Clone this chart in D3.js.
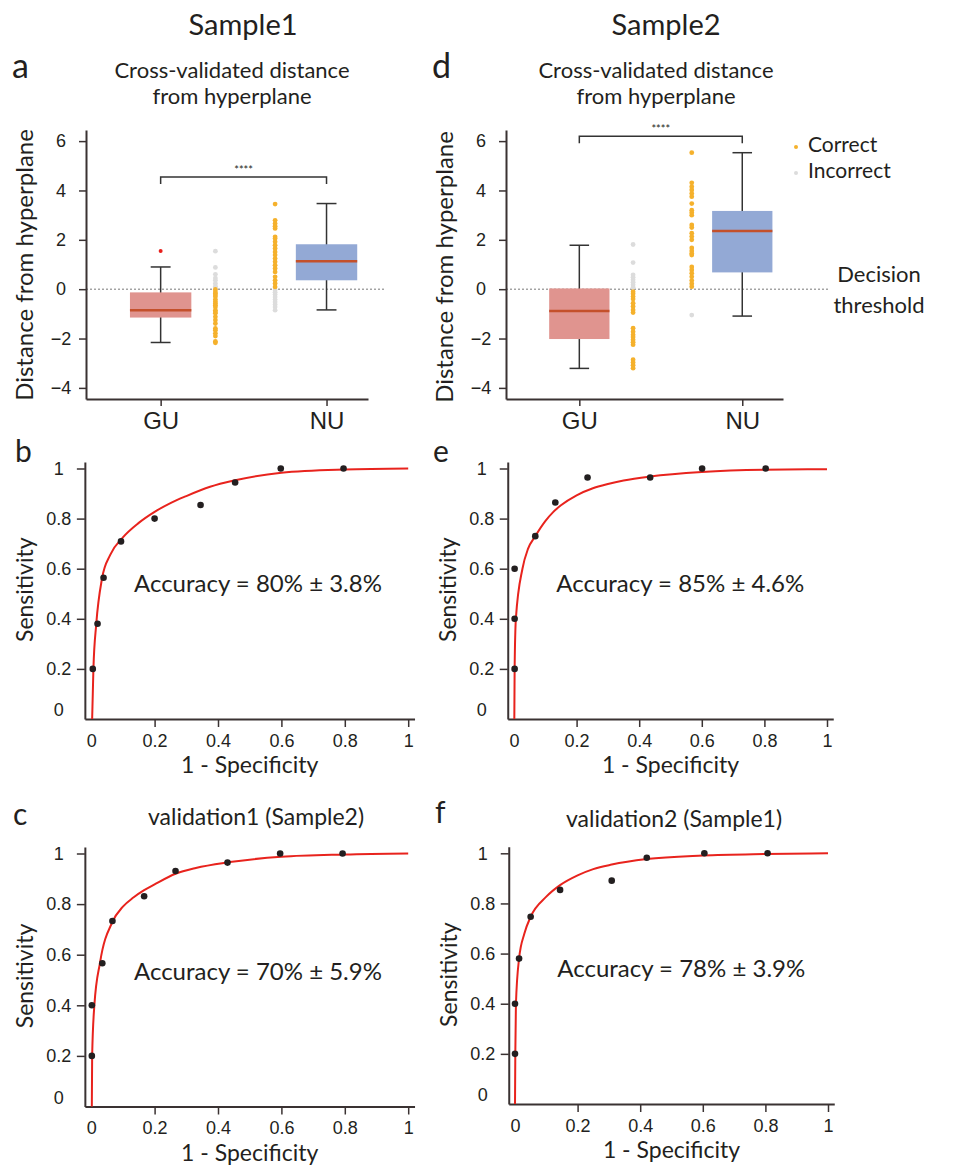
<!DOCTYPE html>
<html>
<head>
<meta charset="utf-8">
<script src="https://cdn.jsdelivr.net/npm/d3@7"></script>
<style>
  body { margin: 0; background: #fff; }
  svg { font-family: Lato, "Open Sans", sans-serif; }
</style>
</head>
<body>
<svg id="fig" width="955" height="1168"></svg>
<script>
// ---- data ----
var groups = ["GU", "NU"];
var boxYTicks = [-4, -2, 0, 2, 4, 6];
var rocTicks = [0, 0.2, 0.4, 0.6, 0.8, 1];

// box stats: [low whisker, q1, median, q3, high whisker]
var s1GuBox = [-2.16, -1.15, -0.85, -0.13, 0.9];
var s1NuBox = [-0.84, 0.36, 1.13, 1.82, 3.47];
var s1GuOutliers = [1.55];
var s1GuCorrect = [-0.01, -0.11, -0.18, -0.24, -0.31, -0.42, -0.51, -0.58, -0.65, -0.72, -0.85, -0.92, -0.98, -1.12, -1.25, -1.39, -1.59, -1.66, -1.79, -1.9, -2.12, -2.17];
var s1GuIncorrect = [1.54, 0.88, 0.6, 0.45, 0.36, 0.23, 0.12, 0.05];
var s1NuCorrect = [3.45, 2.79, 2.66, 2.55, 2.46, 2.12, 2.05, 1.92, 1.78, 1.65, 1.51, 1.38, 1.24, 1.11, 0.97, 0.84, 0.7, 0.5, 0.36, 0.23, 0.09];
var s1NuIncorrect = [-0.03, -0.12, -0.22, -0.32, -0.42, -0.52, -0.62, -0.72, -0.85];

var s2GuBox = [-3.21, -2.02, -0.88, 0.03, 1.78];
var s2NuBox = [-1.09, 0.68, 2.36, 3.17, 5.53];
var s2GuCorrect = [-0.1, -0.19, -0.3, -0.4, -0.57, -0.7, -0.84, -0.95, -1.58, -1.72, -1.85, -1.94, -2.05, -2.15, -2.25, -2.86, -2.97, -3.08, -3.2];
var s2GuIncorrect = [1.81, 1.08, 0.58, 0.48, 0.38, 0.28, 0.18, 0.08];
var s2NuCorrect = [5.53, 4.31, 4.15, 4.02, 3.88, 3.75, 3.47, 3.2, 3.1, 3.0, 2.6, 2.5, 2.27, 2.13, 2.0, 1.67, 1.55, 1.45, 1.38, 0.9, 0.78, 0.65, 0.5, 0.35, 0.22, 0.1];
var s2NuIncorrect = [-1.05];

// ROC points [1 - specificity, sensitivity] and the fitted curve
var bPoints = [[0.005, 0.2], [0.02, 0.38], [0.039, 0.564], [0.094, 0.709], [0.2, 0.8], [0.345, 0.854], [0.454, 0.944], [0.598, 1.0], [0.796, 1.0]];
var bFit = [[0.003, 0], [0.005, 0.1], [0.007, 0.2], [0.016, 0.38], [0.034, 0.56], [0.06, 0.655], [0.1, 0.725], [0.15, 0.783], [0.2, 0.827], [0.25, 0.862], [0.3, 0.89], [0.375, 0.927], [0.45, 0.952], [0.6, 0.983], [0.8, 0.996], [1.0, 1.0]];
var ePoints = [[0.002, 0.2], [0.002, 0.4], [0.002, 0.6], [0.068, 0.73], [0.132, 0.864], [0.235, 0.964], [0.435, 0.964], [0.601, 1.0], [0.804, 1.0]];
var eFit = [[0.001, 0], [0.002, 0.2], [0.006, 0.4], [0.027, 0.6], [0.045, 0.68], [0.068, 0.73], [0.1, 0.79], [0.125, 0.826], [0.15, 0.853], [0.2, 0.893], [0.25, 0.92], [0.3, 0.938], [0.35, 0.952], [0.435, 0.968], [0.6, 0.986], [0.8, 0.995], [1.0, 0.997]];
var cPoints = [[0.002, 0.2], [0.002, 0.4], [0.035, 0.566], [0.067, 0.733], [0.167, 0.831], [0.266, 0.931], [0.43, 0.964], [0.596, 1.0], [0.793, 1.0]];
var cFit = [[0.002, 0], [0.003, 0.2], [0.01, 0.4], [0.028, 0.57], [0.067, 0.73], [0.1, 0.79], [0.133, 0.826], [0.167, 0.855], [0.2, 0.878], [0.266, 0.92], [0.33, 0.943], [0.43, 0.965], [0.6, 0.987], [0.8, 0.996], [1.0, 1.0]];
var fPoints = [[0.0, 0.2], [0.0, 0.4], [0.013, 0.58], [0.05, 0.747], [0.144, 0.854], [0.309, 0.891], [0.421, 0.982], [0.605, 1.0], [0.807, 1.0]];
var fFit = [[0.0, 0], [0.001, 0.2], [0.003, 0.4], [0.013, 0.58], [0.03, 0.68], [0.05, 0.747], [0.1, 0.827], [0.144, 0.873], [0.2, 0.912], [0.25, 0.937], [0.309, 0.955], [0.421, 0.977], [0.6, 0.991], [0.8, 0.997], [1.0, 1.0]];

// ---- styles ----
var ink = '#231f20', axisCol = '#3a3232';
var orange = '#f5b12c', grey = '#dcdcdc';

var svg = d3.select('#fig');

function label(x, y, txt, size, anchor) {
	return svg.append('text')
		.attr('x', x).attr('y', y)
		.attr('font-size', size)
		.attr('text-anchor', anchor || 'middle')
		.attr('fill', ink)
		.text(txt);
}

// box plot panel (a / d)
function boxPanel(o) {
	var x = d3.scaleLinear().domain([-0.45, 1.25]).range([o.left, o.right]);
	var y = d3.scaleLinear().domain([-4.45, 6.45]).range([399, 130]);
	var g = svg.append('g');

	// decision threshold
	g.append('line')
		.attr('x1', o.left).attr('x2', o.lineEnd)
		.attr('y1', y(0)).attr('y2', y(0))
		.attr('stroke', '#777').attr('stroke-width', 1)
		.attr('stroke-dasharray', '2,2');

	var boxes = [o.gu, o.nu];
	var fills = ['#e0948f', '#93a9d5'];
	boxes.forEach(function(b, i) {
		g.append('line')
			.attr('x1', x(i)).attr('x2', x(i))
			.attr('y1', y(b[0])).attr('y2', y(b[4]))
			.attr('stroke', '#333').attr('stroke-width', 1.5);
		[b[0], b[4]].forEach(function(v) {
			g.append('line')
				.attr('x1', x(i - 0.06)).attr('x2', x(i + 0.06))
				.attr('y1', y(v)).attr('y2', y(v))
				.attr('stroke', '#333').attr('stroke-width', 1.5);
		});
		g.append('rect')
			.attr('x', x(i - 0.185)).attr('width', x(i + 0.185) - x(i - 0.185))
			.attr('y', y(b[3])).attr('height', y(b[1]) - y(b[3]))
			.attr('fill', fills[i]);
		g.append('line')
			.attr('x1', x(i - 0.185)).attr('x2', x(i + 0.185))
			.attr('y1', y(b[2])).attr('y2', y(b[2]))
			.attr('stroke', '#c4502b').attr('stroke-width', 2.5);
	});

	// outliers
	g.selectAll('circle.out').data(o.outliers).join('circle')
		.attr('class', 'out')
		.attr('cx', x(0)).attr('cy', d => y(d)).attr('r', 2)
		.attr('fill', '#e8201c');

	// strips of individual subjects
	var strips = [
		{pos: 0.33, vals: o.guIncorrect, col: grey},
		{pos: 0.33, vals: o.guCorrect, col: orange},
		{pos: 0.69, vals: o.nuIncorrect, col: grey},
		{pos: 0.69, vals: o.nuCorrect, col: orange}
	];
	strips.forEach(function(s) {
		g.append('g').selectAll('circle').data(s.vals).join('circle')
			.attr('cx', x(s.pos)).attr('cy', d => y(d)).attr('r', 2.4)
			.attr('fill', s.col);
	});

	// significance bracket
	g.append('path')
		.attr('d', 'M' + x(0) + ',' + (y(o.brk) + 7) + 'V' + y(o.brk) + 'H' + x(1) + 'V' + (y(o.brk) + 7))
		.attr('fill', 'none').attr('stroke', '#333').attr('stroke-width', 1.5);
	g.append('text')
		.attr('x', (x(0) + x(1)) / 2).attr('y', y(o.brk) - 3)
		.attr('text-anchor', 'middle').attr('font-size', 11).attr('fill', ink)
		.text('****');

	// axes
	g.append('g')
		.attr('transform', 'translate(0,399)')
		.attr('color', axisCol)
		.call(d3.axisBottom(x).tickValues([0, 1]).tickFormat(i => groups[i]).tickSize(7).tickSizeOuter(0))
		.call(a => a.select('.domain').attr('stroke-width', 2))
		.call(a => a.selectAll('.tick line').attr('stroke-width', 1.5))
		.call(a => a.selectAll('.tick text').attr('y', 13).attr('font-size', 24).attr('fill', ink).attr('font-family', null));
	g.append('g')
		.attr('transform', 'translate(' + o.left + ',0)')
		.attr('color', axisCol)
		.call(d3.axisLeft(y).tickValues(boxYTicks).tickSize(7).tickSizeOuter(0))
		.call(a => a.select('.domain').attr('stroke-width', 2))
		.call(a => a.selectAll('.tick line').attr('stroke-width', 1.5))
		.call(a => a.selectAll('.tick text').attr('x', -25).attr('text-anchor', 'middle')
			.attr('font-size', 18).attr('fill', ink).attr('font-family', null));

	svg.append('text')
		.attr('transform', 'translate(' + o.ylabX + ',' + o.ylabY + ') rotate(-90)')
		.attr('text-anchor', 'middle').attr('font-size', 24).attr('fill', ink)
		.text('Distance from hyperplane');
}

// ROC panel (b, c, e, f)
function rocPanel(o) {
	var x = d3.scaleLinear().domain([-0.02, 1.02]).range([o.x0 - 0.02 * o.w, o.x0 + 1.02 * o.w]);
	var y = d3.scaleLinear().domain([0, 1.026]).range([o.y0, o.y0 - 1.026 * o.h]);
	var g = svg.append('g');

	g.append('g')
		.attr('transform', 'translate(0,' + o.y0 + ')')
		.attr('color', axisCol)
		.call(d3.axisBottom(x).tickValues(rocTicks).tickFormat(d3.format('')).tickSize(8).tickSizeOuter(0))
		.call(a => a.select('.domain').attr('stroke-width', 2))
		.call(a => a.selectAll('.tick line').attr('stroke-width', 1.5).attr('display', d => d === 0 ? 'none' : null))
		.call(a => a.selectAll('.tick text').attr('y', 15).attr('font-size', 18).attr('fill', ink).attr('font-family', null));
	g.append('g')
		.attr('transform', 'translate(' + x(-0.02) + ',0)')
		.attr('color', axisCol)
		.call(d3.axisLeft(y).tickValues(rocTicks).tickFormat(d3.format('')).tickSize(8).tickSizeOuter(0))
		.call(a => a.select('.domain').attr('stroke-width', 2))
		.call(a => a.selectAll('.tick line').attr('stroke-width', 1.5).attr('display', d => d === 0 ? 'none' : null))
		.call(a => a.selectAll('.tick text').attr('x', -26).attr('text-anchor', 'middle')
			.attr('y', d => d === 0 ? -9 : 0)
			.attr('font-size', 18).attr('fill', ink).attr('font-family', null));

	var line = d3.line().x(d => x(d[0])).y(d => y(d[1])).curve(d3.curveMonotoneX);
	g.append('path')
		.attr('d', line(o.fit))
		.attr('fill', 'none').attr('stroke', '#e8231d').attr('stroke-width', 2);

	g.append('g').selectAll('circle').data(o.points).join('circle')
		.attr('cx', d => x(d[0])).attr('cy', d => y(d[1])).attr('r', 3.3)
		.attr('fill', ink);

	svg.append('text')
		.attr('x', x(0.135)).attr('y', o.accY)
		.attr('font-size', 24).attr('fill', ink)
		.text(o.acc);
	svg.append('text')
		.attr('x', x(0.5)).attr('y', o.y0 + 54)
		.attr('text-anchor', 'middle').attr('font-size', 23).attr('fill', ink)
		.text('1 - Specificity');
	svg.append('text')
		.attr('transform', 'translate(' + (x(-0.02) - 52) + ',' + (y(0.5) - 4) + ') rotate(-90)')
		.attr('text-anchor', 'middle').attr('font-size', 23).attr('fill', ink)
		.text('Sensitivity');
}

// ---- headings ----
label(243, 35, 'Sample1', 29);
label(666, 35, 'Sample2', 29);
label(12, 78, 'a', 34, 'start');
label(432, 78, 'd', 34, 'start');
label(232, 78, 'Cross-validated distance', 22);
label(232, 104, 'from hyperplane', 22);
label(656, 78, 'Cross-validated distance', 22);
label(656, 104, 'from hyperplane', 22);
label(15, 462, 'b', 30, 'start');
label(433, 462, 'e', 30, 'start');
label(13, 825, 'c', 30, 'start');
label(435, 823, 'f', 30, 'start');
label(256, 825, 'validation1 (Sample2)', 23);
label(674, 827, 'validation2 (Sample1)', 23);

// ---- panels ----
boxPanel({left: 86, right: 368, lineEnd: 385, gu: s1GuBox, nu: s1NuBox, outliers: s1GuOutliers,
	guCorrect: s1GuCorrect, guIncorrect: s1GuIncorrect, nuCorrect: s1NuCorrect, nuIncorrect: s1NuIncorrect,
	brk: 4.55, ylabX: 33, ylabY: 265});
boxPanel({left: 506, right: 783, lineEnd: 828, gu: s2GuBox, nu: s2NuBox, outliers: [],
	guCorrect: s2GuCorrect, guIncorrect: s2GuIncorrect, nuCorrect: s2NuCorrect, nuIncorrect: s2NuIncorrect,
	brk: 6.2, ylabX: 453, ylabY: 267});

// legend and threshold note
svg.append('circle').attr('cx', 796).attr('cy', 147).attr('r', 2).attr('fill', orange);
svg.append('circle').attr('cx', 796).attr('cy', 173).attr('r', 2).attr('fill', grey);
label(808, 152, 'Correct', 21, 'start');
label(808, 178, 'Incorrect', 21, 'start');
label(879, 282, 'Decision', 22);
label(879, 313, 'threshold', 22);

rocPanel({x0: 91.2, w: 317, y0: 719, h: 250.5, points: bPoints, fit: bFit, acc: 'Accuracy = 80% ± 3.8%', accY: 592});
rocPanel({x0: 514, w: 313, y0: 719, h: 250.5, points: ePoints, fit: eFit, acc: 'Accuracy = 85% ± 4.6%', accY: 592});
rocPanel({x0: 91.2, w: 317, y0: 1106.5, h: 253, points: cPoints, fit: cFit, acc: 'Accuracy = 70% ± 5.9%', accY: 980});
rocPanel({x0: 515, w: 313, y0: 1104, h: 250.7, points: fPoints, fit: fFit, acc: 'Accuracy = 78% ± 3.9%', accY: 977});
</script>
</body>
</html>
